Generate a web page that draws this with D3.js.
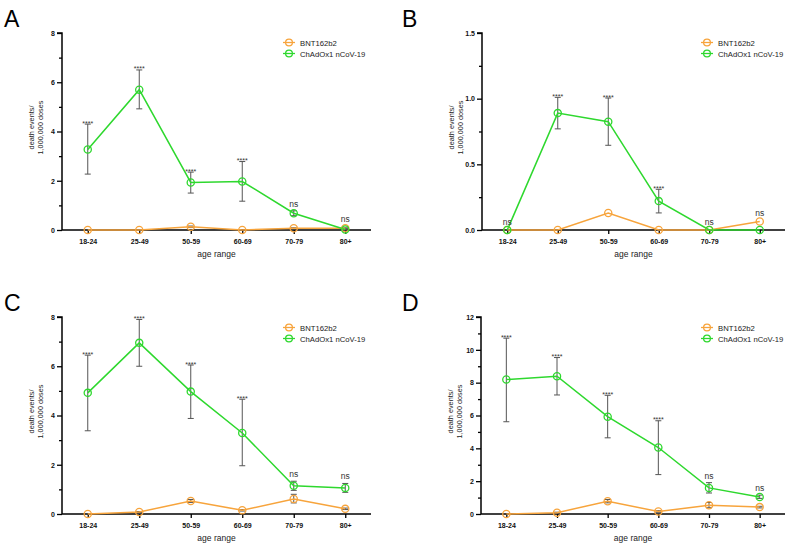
<!DOCTYPE html>
<html><head><meta charset="utf-8">
<script src="https://cdn.jsdelivr.net/npm/d3@7"></script>
<style>
body{margin:0;background:#fff;}
svg{font-family:Arial,"Liberation Sans",sans-serif;}
</style></head>
<body><svg id="c" width="789" height="545"></svg>
<script>
const categories = ["18-24","25-49","50-59","60-69","70-79","80+"];
const seriesNames = ["BNT162b2","ChAdOx1 nCoV-19"];
const panelLetters = ["A","B","C","D"];
const yMax = [8, 1.5, 8, 12];
const yMajorStep = [2, 0.5, 2, 2];
const yMinorStep = [1, 0.25, 1, 1];

// Panel A
const bntA    = [0, 0, 0.13, 0, 0.07, 0.07];
const bntA_lo = [0, 0, 0.10, 0, 0.05, 0.05];
const bntA_hi = [0, 0, 0.16, 0, 0.09, 0.09];
const chaA    = [3.27, 5.7, 1.93, 1.97, 0.68, 0.02];
const chaA_lo = [2.27, 4.92, 1.5, 1.17, 0.58, 0.0];
const chaA_hi = [4.3, 6.5, 2.35, 2.78, 0.78, 0.04];
const sigA = ["****","****","****","****","ns","ns"];

// Panel B
const bntB    = [0, 0, 0.13, 0, 0, 0.065];
const bntB_lo = [0, 0, 0.13, 0, 0, 0.065];
const bntB_hi = [0, 0, 0.13, 0, 0, 0.065];
const chaB    = [0, 0.89, 0.825, 0.22, 0, 0];
const chaB_lo = [0, 0.77, 0.645, 0.13, 0, 0];
const chaB_hi = [0, 1.01, 1.005, 0.31, 0, 0];
const sigB = ["ns","****","****","****","ns","ns"];

// Panel C
const bntC    = [0, 0.08, 0.53, 0.15, 0.61, 0.21];
const bntC_lo = [0, 0.06, 0.47, 0.12, 0.45, 0.18];
const bntC_hi = [0, 0.10, 0.59, 0.18, 0.80, 0.24];
const chaC    = [4.92, 6.95, 4.97, 3.29, 1.15, 1.06];
const chaC_lo = [3.38, 6.0, 3.88, 1.96, 0.96, 0.88];
const chaC_hi = [6.45, 7.9, 6.05, 4.66, 1.33, 1.24];
const sigC = ["****","****","****","****","ns","ns"];

// Panel D
const bntD    = [0, 0.08, 0.78, 0.15, 0.53, 0.42];
const bntD_lo = [0, 0.05, 0.68, 0.10, 0.38, 0.37];
const bntD_hi = [0, 0.11, 0.88, 0.20, 0.70, 0.47];
const chaD    = [8.19, 8.39, 5.93, 4.05, 1.59, 1.04];
const chaD_lo = [5.62, 7.25, 4.64, 2.4, 1.28, 0.95];
const chaD_hi = [10.71, 9.53, 7.23, 5.68, 1.91, 1.15];
const sigD = ["****","****","****","****","ns","ns"];

const panelData = [
  {bnt:bntA, bntLo:bntA_lo, bntHi:bntA_hi, cha:chaA, chaLo:chaA_lo, chaHi:chaA_hi, sig:sigA},
  {bnt:bntB, bntLo:bntB_lo, bntHi:bntB_hi, cha:chaB, chaLo:chaB_lo, chaHi:chaB_hi, sig:sigB},
  {bnt:bntC, bntLo:bntC_lo, bntHi:bntC_hi, cha:chaC, chaLo:chaC_lo, chaHi:chaC_hi, sig:sigC},
  {bnt:bntD, bntLo:bntD_lo, bntHi:bntD_hi, cha:chaD, chaLo:chaD_lo, chaHi:chaD_hi, sig:sigD}
];

// layout (pixels)
const layout = [
  {x0:62,  x1:371, top:33,  base:230, letterX:4,   letterY:27,  legX:289, legY:42.5},
  {x0:482, x1:785, top:33,  base:230, letterX:402, letterY:27,  legX:707, legY:42.5},
  {x0:62,  x1:371, top:317, base:514, letterX:4,   letterY:311, legX:289, legY:327.5},
  {x0:481, x1:785, top:317, base:514, letterX:402, letterY:311, legX:707, legY:327.5}
];
const colors = ["#f7a43c", "#2ed82e"];
const errColor = "#555";
const svg = d3.select("#c");

panelData.forEach((pd, i) => {
  const L = layout[i];
  const g = svg.append("g");
  const x = d3.scalePoint().domain(categories).range([L.x0, L.x1]).padding(0.5);
  const y = d3.scaleLinear().domain([0, yMax[i]]).range([L.base, L.top]);

  // panel letter
  g.append("text").attr("x", L.letterX).attr("y", L.letterY)
    .attr("font-size", 23).attr("fill", "#000").text(panelLetters[i]);

  // y axis
  const majors = d3.range(0, yMax[i] + 1e-9, yMajorStep[i]);
  const minors = d3.range(0, yMax[i] + 1e-9, yMinorStep[i]).filter(v => !majors.some(m => Math.abs(m - v) < 1e-9));
  const fmt = yMajorStep[i] < 1 ? d3.format(".1f") : d3.format("d");
  const yAxis = d3.axisLeft(y).tickValues(majors).tickFormat(fmt).tickSize(5).tickPadding(2);
  const ya = g.append("g").attr("transform", `translate(${L.x0},0)`).call(yAxis);
  ya.select(".domain").attr("stroke-width", 1.5).attr("d", `M-5,${y(yMax[i])}H0V${L.base}`);
  ya.selectAll(".tick line").attr("stroke-width", 1.3);
  ya.selectAll(".tick text").attr("font-size", 7).attr("font-weight", "bold")
    .attr("font-family", "Arial, Liberation Sans, sans-serif").attr("fill", "#111");
  const ym = g.append("g").attr("transform", `translate(${L.x0},0)`)
    .call(d3.axisLeft(y).tickValues(minors).tickFormat("").tickSize(3));
  ym.select(".domain").remove();
  ym.selectAll(".tick line").attr("stroke-width", 1.3);

  // x axis
  const xAxis = d3.axisBottom(x).tickSize(4).tickPadding(5);
  const xa = g.append("g").attr("transform", `translate(0,${L.base})`).call(xAxis);
  xa.select(".domain").attr("stroke-width", 1.5).attr("d", `M${L.x0},0H${L.x1}`);
  xa.selectAll(".tick line").attr("stroke-width", 1.3);
  xa.selectAll(".tick text").attr("font-size", 7).attr("font-weight", "bold")
    .attr("font-family", "Arial, Liberation Sans, sans-serif").attr("fill", "#111");

  // axis titles
  g.append("text").attr("x", (L.x0 + L.x1) / 2).attr("y", L.base + 27)
    .attr("text-anchor", "middle").attr("font-size", 8.5).attr("fill", "#222").text("age range");
  const midY = (L.top + L.base) / 2 - 4;
  const yt = g.append("text").attr("transform", `translate(${L.x0 - 28},${midY}) rotate(-90)`)
    .attr("text-anchor", "middle").attr("font-size", 7.3).attr("fill", "#222");
  yt.append("tspan").attr("x", 0).attr("dy", 0).text("death events/");
  yt.append("tspan").attr("x", 0).attr("dy", 9).text("1,000,000 doses");

  const series = [
    {v: pd.bnt, lo: pd.bntLo, hi: pd.bntHi, c: colors[0]},
    {v: pd.cha, lo: pd.chaLo, hi: pd.chaHi, c: colors[1]}
  ];
  const line = d3.line().x((d, k) => x(categories[k])).y(d => y(d));

  // error bars
  series.forEach(s => {
    categories.forEach((cat, k) => {
      if (s.hi[k] - s.lo[k] < 1e-9) return;
      const cx = x(cat);
      g.append("path").attr("fill", "none").attr("stroke", errColor).attr("stroke-width", 1)
        .attr("d", `M${cx},${y(s.lo[k])}V${y(s.hi[k])}M${cx-3},${y(s.lo[k])}H${cx+3}M${cx-3},${y(s.hi[k])}H${cx+3}`);
    });
  });
  // lines + markers (orange then green)
  series.forEach(s => {
    g.append("path").datum(s.v).attr("fill", "none").attr("stroke", s.c)
      .attr("stroke-width", 1.5).attr("d", line);
  });
  series.forEach(s => {
    g.selectAll(null).data(s.v).join("circle")
      .attr("cx", (d, k) => x(categories[k])).attr("cy", d => y(d)).attr("r", 3.6)
      .attr("fill", "none").attr("stroke", s.c).attr("stroke-width", 1.3);
  });

  // significance annotations
  categories.forEach((cat, k) => {
    const top = Math.max(pd.chaHi[k], pd.cha[k], pd.bntHi[k], pd.bnt[k]);
    const ty = y(top);
    const label = pd.sig[k];
    const isStar = label.startsWith("*");
    const hasErr = (pd.chaHi[k] - pd.chaLo[k]) > 1e-9 && pd.chaHi[k] >= pd.bntHi[k];
    const by = isStar ? ty + 1.5 : ty - (hasErr ? 4 : 5.5);
    g.append("text").attr("x", x(cat)).attr("y", by).attr("text-anchor", "middle")
      .attr("font-size", isStar ? 7 : 8.5).attr("fill", "#333").text(label);
  });

  // legend
  seriesNames.forEach((name, k) => {
    const ly = L.legY + k * 11;
    g.append("line").attr("x1", L.legX - 6).attr("x2", L.legX + 6).attr("y1", ly).attr("y2", ly)
      .attr("stroke", colors[k]).attr("stroke-width", 1.3);
    g.append("circle").attr("cx", L.legX).attr("cy", ly).attr("r", 3.4)
      .attr("fill", "none").attr("stroke", colors[k]).attr("stroke-width", 1.3);
    g.append("text").attr("x", L.legX + 11).attr("y", ly + 3).attr("font-size", 7.7)
      .attr("fill", "#222").text(name);
  });
});
</script></body></html>
